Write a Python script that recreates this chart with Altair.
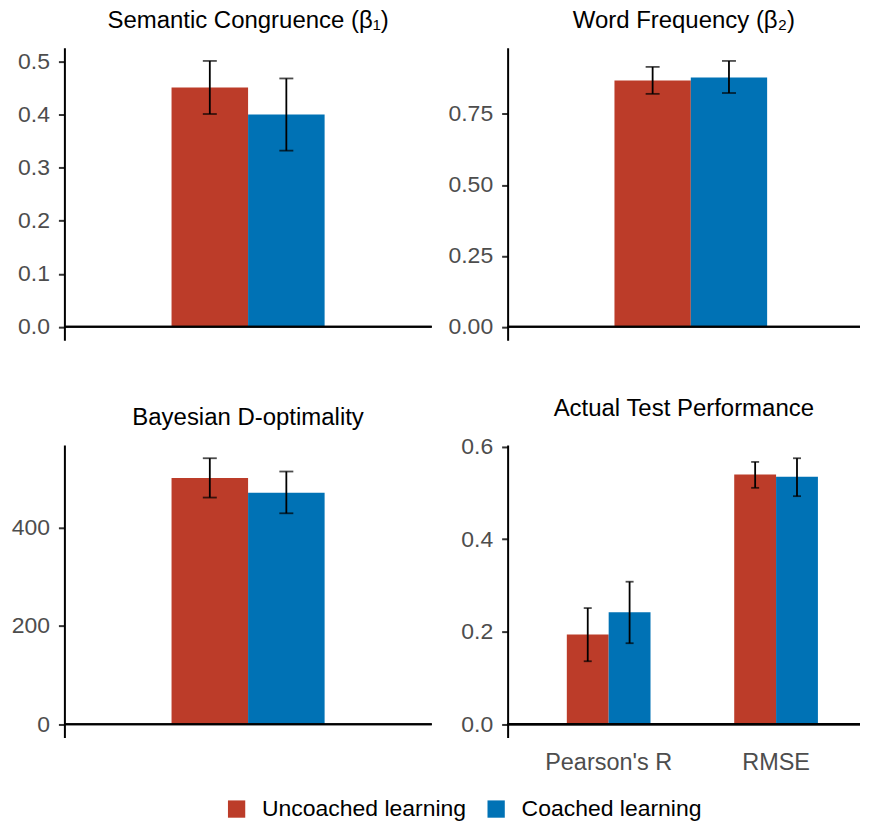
import altair as alt
import pandas as pd

groups = ["Uncoached learning", "Coached learning"]
colors = ["#BC3C29", "#0072B5"]

titles = ["Semantic Congruence (β₁)", "Word Frequency (β₂)",
          "Bayesian D-optimality", "Actual Test Performance"]

# panel 1: Semantic Congruence
p1_cats = ["all", "all"]
p1_mean = [0.451, 0.400]
p1_lo = [0.401, 0.332]
p1_hi = [0.501, 0.468]
p1_ticks = [0.0, 0.1, 0.2, 0.3, 0.4, 0.5]

# panel 2: Word Frequency
p2_cats = ["all", "all"]
p2_mean = [0.868, 0.879]
p2_lo = [0.821, 0.824]
p2_hi = [0.916, 0.937]
p2_ticks = [0.0, 0.25, 0.5, 0.75]

# panel 3: Bayesian D-optimality
p3_cats = ["all", "all"]
p3_mean = [501, 471]
p3_lo = [461, 429]
p3_hi = [541, 514]
p3_ticks = [0, 200, 400]

# panel 4: Actual Test Performance
p4_cats = ["Pearson's R", "Pearson's R", "RMSE", "RMSE"]
p4_groups = ["Uncoached learning", "Coached learning", "Uncoached learning", "Coached learning"]
p4_mean = [0.194, 0.242, 0.540, 0.535]
p4_lo = [0.136, 0.175, 0.511, 0.493]
p4_hi = [0.251, 0.308, 0.567, 0.575]
p4_ticks = [0.0, 0.2, 0.4, 0.6]

FONT = "Liberation Sans"


def panel(cats, grp, mean, lo, hi, title, ticks, fmt, width, pouter, align, cap, show_x):
    df = pd.DataFrame({"cat": cats, "group": grp, "mean": mean, "lo": lo, "hi": hi})
    top = max(hi)
    pad = top * 0.05
    domain = [-pad, top + pad]
    cat_order = list(dict.fromkeys(cats))
    if show_x:
        xaxis = alt.Axis(title=None, labelAngle=0, domain=False, ticks=False,
                         labelFontSize=23.5, labelColor="#4D4D4D", labelPadding=13,
                         labelFont=FONT)
    else:
        xaxis = None
    x = alt.X("cat:N", sort=cat_order, axis=xaxis,
              scale=alt.Scale(paddingInner=0.5, paddingOuter=pouter, align=align))
    xo = alt.XOffset("group:N", sort=groups,
                     scale=alt.Scale(domain=groups, paddingInner=0, paddingOuter=0))
    yscale = alt.Scale(domain=domain, nice=False, zero=False)
    yaxis = alt.Axis(values=ticks, format=fmt, title=None, grid=False,
                     domainColor="black", domainWidth=2, tickColor="#333333",
                     tickWidth=2, tickSize=6, labelPadding=9, labelFontSize=23,
                     labelColor="#4D4D4D", labelFont=FONT)
    base = alt.Chart(df)
    bars = base.mark_bar().encode(
        x=x, xOffset=xo,
        y=alt.Y("mean:Q", scale=yscale, axis=yaxis),
        color=alt.Color("group:N", sort=groups,
                        scale=alt.Scale(domain=groups, range=colors),
                        legend=alt.Legend(title=None, orient="none", legendX=161,
                                          legendY=751, direction="horizontal",
                                          symbolType="square", symbolSize=300,
                                          symbolStrokeWidth=0, labelFontSize=23,
                                          labelFont=FONT, labelColor="black",
                                          labelLimit=0,
                                          columnPadding=18, labelOffset=14)),
    )
    rules = base.mark_rule(color="black", strokeWidth=1.8).encode(
        x=x, xOffset=xo, y=alt.Y("lo:Q", scale=yscale), y2="hi:Q")
    cap_lo = base.mark_tick(color="black", orient="horizontal", size=cap, thickness=1.8).encode(
        x=x, xOffset=xo, y=alt.Y("lo:Q", scale=yscale))
    cap_hi = base.mark_tick(color="black", orient="horizontal", size=cap, thickness=1.8).encode(
        x=x, xOffset=xo, y=alt.Y("hi:Q", scale=yscale))
    zero = base.mark_rule(color="black", strokeWidth=2).encode(
        y=alt.Y(datum=0, scale=yscale),
        x=alt.value(0), x2=alt.value(width))
    return alt.layer(bars, rules, cap_lo, cap_hi, zero).properties(
        width=width, height=293,
        title=alt.TitleParams(title, fontSize=24, font=FONT, fontWeight="normal",
                              color="black", anchor="middle", offset=14.6))


c1 = panel(p1_cats, groups, p1_mean, p1_lo, p1_hi, titles[0], p1_ticks, ".1f", 368, 0.35, 0.5, 14, False)
c2 = panel(p2_cats, groups, p2_mean, p2_lo, p2_hi, titles[1], p2_ticks, ".2f", 353, 0.327, 0.535, 14, False)
c3 = panel(p3_cats, groups, p3_mean, p3_lo, p3_hi, titles[2], p3_ticks, "d", 368, 0.35, 0.5, 14, False)
c4 = panel(p4_cats, p4_groups, p4_mean, p4_lo, p4_hi, titles[3], p4_ticks, ".1f", 353, 0.3025, 0.5845, 8, True)

chart = alt.concat(c1, c2, c3, c4, columns=2, spacing={"row": 105, "column": 76},
                   bounds="flush").resolve_scale(
    y="independent", x="independent", xOffset="independent"
).configure(
    font=FONT, background="white",
    padding={"left": 2.5, "top": 0, "right": 0, "bottom": 0}
).configure_view(strokeWidth=0, stroke=None)

chart.save("out.html", embed_options={"renderer": "svg", "actions": False})
